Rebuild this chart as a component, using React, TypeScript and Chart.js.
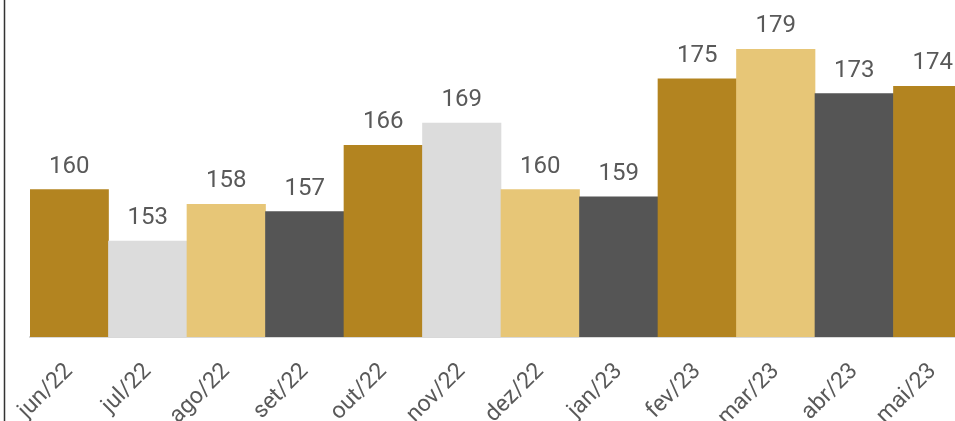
import React, { useEffect, useRef } from "react";
import { Chart, registerables } from "chart.js";

Chart.register(...registerables);

const categories = ["jun/22", "jul/22", "ago/22", "set/22", "out/22", "nov/22", "dez/22", "jan/23", "fev/23", "mar/23", "abr/23", "mai/23"];
const values = [160, 153, 158, 157, 166, 169, 160, 159, 175, 179, 173, 174];
const GOLD = "#B38420";
const LIGHT_GRAY = "#DCDCDC";
const LIGHT_GOLD = "#E7C677";
const DARK_GRAY = "#555555";
const barColors = [GOLD, LIGHT_GRAY, LIGHT_GOLD, DARK_GRAY, GOLD, LIGHT_GRAY, LIGHT_GOLD, DARK_GRAY, GOLD, LIGHT_GOLD, DARK_GRAY, GOLD];

const labelPlugin = {
  id: "valueLabels",
  afterDatasetsDraw(chart: any) {
    const ctx = chart.ctx;
    const meta = chart.getDatasetMeta(0);
    ctx.save();
    ctx.font = "24px Roboto";
    ctx.fillStyle = "#595959";
    ctx.textAlign = "center";
    ctx.textBaseline = "alphabetic";
    meta.data.forEach((bar: any, i: number) => {
      ctx.fillText(String(values[i]), bar.x, bar.y - 17);
    });
    ctx.restore();
  },
};

const leftLinePlugin = {
  id: "leftLine",
  afterDraw(chart: any) {
    const ctx = chart.ctx;
    ctx.save();
    ctx.strokeStyle = "#333333";
    ctx.lineWidth = 1.5;
    ctx.beginPath();
    ctx.moveTo(4.5, 0);
    ctx.lineTo(4.5, chart.height);
    ctx.stroke();
    ctx.restore();
  },
};

export default function App() {
  const ref = useRef<HTMLCanvasElement>(null);
  useEffect(() => {
    if (!ref.current) return;
    const chart = new Chart(ref.current, {
      type: "bar",
      data: {
        labels: categories,
        datasets: [
          {
            data: values,
            backgroundColor: barColors,
            borderWidth: 0,
            barPercentage: 1,
            categoryPercentage: 1,
          },
        ],
      },
      options: {
        animation: false,
        responsive: false,
        maintainAspectRatio: false,
        layout: { padding: { top: 42, left: 30, right: 0, bottom: 0 } },
        plugins: { legend: { display: false }, tooltip: { enabled: false } },
        scales: {
          y: { display: false, min: 140, max: 180 },
          x: {
            grid: { display: false, drawTicks: false },
            border: { display: true, color: "#D9D9D9", width: 2 },
            ticks: {
              maxRotation: 45,
              minRotation: 45,
              autoSkip: false,
              padding: 21,
              color: "#595959",
              font: { family: "Roboto", size: 23 },
            },
            afterFit: (scale: any) => {
              scale.height = 120;
              scale.paddingLeft = 0;
              scale.paddingRight = 0;
            },
          },
        },
      },
      plugins: [labelPlugin, leftLinePlugin],
    });
    return () => chart.destroy();
  }, []);
  return (
    <div style={{ position: "fixed", left: 0, top: 0, width: 955, height: 421, overflow: "hidden", background: "#fff" }}>
      <canvas ref={ref} width={972} height={457} style={{ width: 972, height: 457, display: "block" }} />
    </div>
  );
}
